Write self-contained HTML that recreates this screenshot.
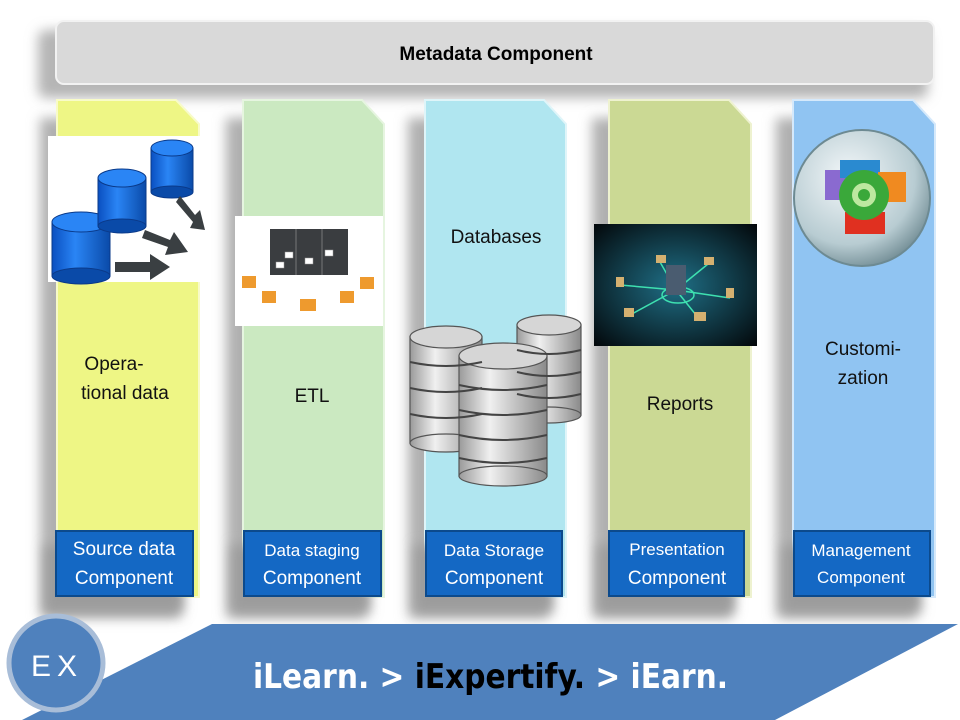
<!DOCTYPE html>
<html><head><meta charset="utf-8"><style>
html,body{margin:0;padding:0;background:#fff;}
svg{display:block;font-family:"Liberation Sans",sans-serif;}
</style></head><body>
<svg width="960" height="720" viewBox="0 0 960 720" xmlns="http://www.w3.org/2000/svg">
<defs>
<filter id="sh" x="-20%" y="-20%" width="140%" height="140%"><feGaussianBlur stdDeviation="6"/></filter>
<linearGradient id="cyl" x1="0" x2="1"><stop offset="0" stop-color="#9a9a9a"/><stop offset="0.35" stop-color="#f0f0f0"/><stop offset="1" stop-color="#8a8a8a"/></linearGradient>
<linearGradient id="bcyl" x1="0" x2="1"><stop offset="0" stop-color="#0a4fc0"/><stop offset="0.4" stop-color="#2a85f5"/><stop offset="1" stop-color="#0a4aa8"/></linearGradient>
<radialGradient id="sph" cx="0.4" cy="0.35" r="0.7"><stop offset="0" stop-color="#f4f8fa"/><stop offset="0.7" stop-color="#b8ccd2"/><stop offset="1" stop-color="#6f8a92"/></radialGradient>
<radialGradient id="dark" cx="0.5" cy="0.5" r="0.7"><stop offset="0" stop-color="#1f6f86"/><stop offset="1" stop-color="#03080b"/></radialGradient>
</defs>

<rect x="38" y="30" width="890" height="68" rx="8" fill="#b5b5b5" filter="url(#sh)"/>
<rect x="56" y="21" width="878" height="63" rx="8" fill="#d9d9d9" stroke="#f2f2f2" stroke-width="2"/>
<text x="496" y="60" font-size="19" font-weight="bold" text-anchor="middle" fill="#000">Metadata Component</text>

<g fill="#b0b0b0" filter="url(#sh)">
<rect x="40" y="118" width="140" height="500"/>
<rect x="226" y="118" width="140" height="500"/>
<rect x="408" y="118" width="140" height="500"/>
<rect x="592" y="118" width="140" height="500"/>
<rect x="776" y="118" width="140" height="500"/>
</g>
<polygon points="57,100 176,100 199,124 199,597 57,597" fill="#eef685" stroke="#f8fbc8" stroke-width="2"/>
<polygon points="243,100 362,100 384,124 384,597 243,597" fill="#cbe9c1" stroke="#e6f5e0" stroke-width="2"/>
<polygon points="425,100 544,100 566,124 566,597 425,597" fill="#b0e6f0" stroke="#dff5f9" stroke-width="2"/>
<polygon points="609,100 729,100 751,124 751,597 609,597" fill="#cbd994" stroke="#eef2d0" stroke-width="2"/>
<polygon points="793,100 913,100 935,124 935,597 793,597" fill="#90c4f2" stroke="#d5e9fb" stroke-width="2"/>

<g font-size="19" fill="#111" text-anchor="middle">
<text x="114" y="370">Opera-</text>
<text x="125" y="399">tional data</text>
<text x="312" y="402">ETL</text>
<text x="496" y="243">Databases</text>
<text x="680" y="410">Reports</text>
<text x="863" y="355">Customi-</text>
<text x="863" y="384">zation</text>
</g>

<rect x="48" y="136" width="157" height="146" fill="#fff"/>
<g stroke="#0a3a8a" stroke-width="1">
<rect x="52" y="222" width="58" height="54" fill="url(#bcyl)"/><ellipse cx="81" cy="276" rx="29" ry="8" fill="#0a4aa8"/><ellipse cx="81" cy="222" rx="29" ry="10" fill="#2a85f5"/>
<rect x="98" y="178" width="48" height="48" fill="url(#bcyl)"/><ellipse cx="122" cy="226" rx="24" ry="7" fill="#0a4aa8"/><ellipse cx="122" cy="178" rx="24" ry="9" fill="#2a85f5"/>
<rect x="151" y="148" width="42" height="44" fill="url(#bcyl)"/><ellipse cx="172" cy="192" rx="21" ry="6" fill="#0a4aa8"/><ellipse cx="172" cy="148" rx="21" ry="8" fill="#2a85f5"/>
</g>
<g fill="#3a3f42"><polygon points="115,262 150,262 150,254 170,267 150,280 150,272 115,272"/><polygon points="145,230 170,240 174,232 188,252 165,255 168,247 142,238"/><polygon points="180,196 195,215 200,210 205,230 190,228 193,222 176,202"/></g>

<rect x="235" y="216" width="148" height="110" fill="#fff"/>
<rect x="270" y="229" width="78" height="46" fill="#3a3d40"/>
<g stroke="#777" stroke-width="1"><line x1="296" y1="229" x2="296" y2="275"/><line x1="322" y1="229" x2="322" y2="275"/></g>
<g fill="#ee9a2e"><rect x="242" y="276" width="14" height="12"/><rect x="262" y="291" width="14" height="12"/><rect x="300" y="299" width="16" height="12"/><rect x="340" y="291" width="14" height="12"/><rect x="360" y="277" width="14" height="12"/></g>
<g fill="#fff" stroke="#999" stroke-width="0.5"><rect x="285" y="252" width="8" height="6"/><rect x="305" y="258" width="8" height="6"/><rect x="325" y="250" width="8" height="6"/><rect x="276" y="262" width="8" height="6"/></g>

<g stroke="#555" stroke-width="1.2" fill="url(#cyl)">
<rect x="517" y="325" width="64" height="90"/><ellipse cx="549" cy="415" rx="32" ry="8"/><ellipse cx="549" cy="325" rx="32" ry="10" fill="#d6d6d6"/>
<rect x="410" y="337" width="72" height="106"/><ellipse cx="446" cy="443" rx="36" ry="9"/><ellipse cx="446" cy="337" rx="36" ry="11" fill="#d6d6d6"/>
<rect x="459" y="356" width="88" height="120"/><ellipse cx="503" cy="476" rx="44" ry="10"/><ellipse cx="503" cy="356" rx="44" ry="13" fill="#d6d6d6"/>
</g>
<g stroke="#444" stroke-width="2" fill="none">
<path d="M517 350 Q549 358 581 350 M517 372 Q549 380 581 372 M517 394 Q549 402 581 394"/>
<path d="M410 362 Q446 370 482 362 M410 388 Q446 396 482 388 M410 414 Q446 422 482 414"/>
<path d="M459 385 Q503 395 547 385 M459 410 Q503 420 547 410 M459 435 Q503 445 547 435 M459 458 Q503 468 547 458"/>
</g>

<rect x="594" y="224" width="163" height="122" fill="url(#dark)"/>
<g stroke="#3ee0b0" stroke-width="1.5" fill="none">
<line x1="676" y1="290" x2="620" y2="285"/><line x1="676" y1="290" x2="730" y2="298"/><line x1="676" y1="290" x2="700" y2="320"/><line x1="676" y1="290" x2="630" y2="315"/><line x1="676" y1="290" x2="660" y2="262"/><line x1="676" y1="290" x2="708" y2="264"/>
<ellipse cx="678" cy="295" rx="16" ry="8"/>
</g>
<rect x="666" y="265" width="20" height="30" fill="#4a5c70"/>
<g fill="#d4b070"><rect x="616" y="277" width="8" height="10"/><rect x="726" y="288" width="8" height="10"/><rect x="694" y="312" width="12" height="9"/><rect x="624" y="308" width="10" height="9"/><rect x="656" y="255" width="10" height="8"/><rect x="704" y="257" width="10" height="8"/></g>

<circle cx="862" cy="198" r="68" fill="url(#sph)" stroke="#6d8a92" stroke-width="2"/>
<rect x="825" y="170" width="25" height="30" fill="#8a6ad0"/>
<rect x="840" y="160" width="40" height="18" fill="#2a8ad0"/>
<rect x="878" y="172" width="28" height="30" fill="#f08a20"/>
<rect x="845" y="212" width="40" height="22" fill="#e03020"/>
<circle cx="864" cy="195" r="25" fill="#3aa83a"/>
<circle cx="864" cy="195" r="12" fill="#bde8a0"/>
<circle cx="864" cy="195" r="6" fill="#3aa83a"/>

<g fill="#9c9c9c" filter="url(#sh)">
<rect x="45" y="545" width="138" height="68"/><rect x="232" y="545" width="138" height="68"/><rect x="415" y="545" width="138" height="68"/><rect x="598" y="545" width="136" height="68"/><rect x="783" y="545" width="138" height="68"/>
</g>
<g fill="#1468c4" stroke="#0c4a8c" stroke-width="2">
<rect x="56" y="531" width="137" height="65"/>
<rect x="244" y="531" width="137" height="65"/>
<rect x="426" y="531" width="136" height="65"/>
<rect x="609" y="531" width="135" height="65"/>
<rect x="794" y="531" width="136" height="65"/>
</g>
<g fill="#fff" text-anchor="middle">
<text x="124" y="555" font-size="19">Source data</text><text x="124" y="584" font-size="19">Component</text>
<text x="312" y="556" font-size="17">Data staging</text><text x="312" y="584" font-size="19">Component</text>
<text x="494" y="556" font-size="17">Data  Storage</text><text x="494" y="584" font-size="19">Component</text>
<text x="677" y="555" font-size="17">Presentation</text><text x="677" y="584" font-size="19">Component</text>
<text x="861" y="556" font-size="17">Management</text><text x="861" y="583" font-size="17">Component</text>
</g>

<polygon points="212,624 958,624 775,720 22,720" fill="#4f81bd"/>
<circle cx="56" cy="663" r="47" fill="#4f81bd" stroke="#a8bdd8" stroke-width="5"/>
<text x="57" y="676" font-size="30" fill="#fff" text-anchor="middle" letter-spacing="6">EX</text>
<text x="253" y="688" font-size="34" font-weight="bold" fill="#fff" textLength="475" lengthAdjust="spacingAndGlyphs" font-family="'DejaVu Sans Condensed','Liberation Sans',sans-serif">iLearn. &gt; <tspan fill="#000">iExpertify.</tspan> &gt; iEarn.</text>
</svg>
</body></html>
